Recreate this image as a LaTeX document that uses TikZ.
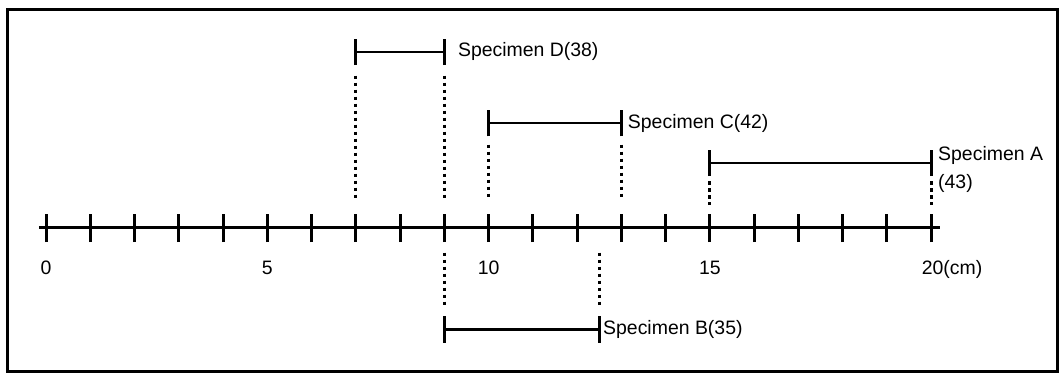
\documentclass[tikz,border=0pt]{standalone}
\usepackage{fontspec}
\setmainfont{Liberation Sans}
\usepackage{tikz}
\usetikzlibrary{positioning}

\begin{document}
\begin{tikzpicture}[x=1cm, y=1cm, line width=1.9pt,
    lbl/.style={inner sep=0pt, outer sep=0pt, font=\fontsize{12.5}{18}\selectfont},
    guide/.style={line width=2pt, dash pattern=on 2pt off 2.5pt},
    endbar/.style={line width=1.9pt}]
    \useasboundingbox (-1.04, -3.30) rectangle (22.89, 5.15);
    \draw (-0.86, -3.25) rectangle (22.85, 4.93);
    % scale
    \coordinate (axl) at (-0.16, 0);
    \coordinate (axr) at (20.2, 0);
    \draw (axl) -- (axr);
    \foreach \i in {0,...,20} {
      \coordinate (t\i) at (\i, 0);
      \draw ([yshift=-0.32cm]t\i) -- ([yshift=0.32cm]t\i);
    }
    \foreach \i in {0,5,10,15}
      \node[lbl, anchor=base] (n\i) at (\i, -1.06) {\i};
    \node[lbl, anchor=base west] (n20) at (19.79, -1.06) {20(cm)};
    % specimens
    \coordinate (d1) at (7, 3.98);    \coordinate (d2) at (9, 3.98);
    \coordinate (c1) at (10, 2.37);   \coordinate (c2) at (13, 2.37);
    \coordinate (a1) at (15, 1.47);   \coordinate (a2) at (20, 1.47);
    \coordinate (b1) at (9, -2.3);    \coordinate (b2) at (12.5, -2.3);
    \foreach \s/\e in {d1/d2, c1/c2, a1/a2, b1/b2} {
      \draw[line width=1.6pt] (\s) -- (\e);
      \draw[endbar] ([yshift=-0.3cm]\s) -- ([yshift=0.3cm]\s);
      \draw[endbar] ([yshift=-0.3cm]\e) -- ([yshift=0.3cm]\e);
    }
    \foreach \e/\a/\b in {d1/-0.54/-3.37, d2/-0.54/-3.37, c1/-0.49/-1.69, c2/-0.49/-1.69,
                          a1/-0.42/-0.95, a2/-0.42/-0.95, b1/1.74/0.51, b2/1.74/0.51}
      \draw[guide] ([yshift=\a cm]\e) -- ([yshift=\b cm]\e);
    \node[lbl, right=0.31cm of d2] (spd) {Specimen D(38)};
    \node[lbl, right=0.15cm of c2] (spc) {Specimen C(42)};
    \node[lbl, right=0.16cm of a2, yshift=-0.14cm, align=left] (spa) {Specimen A\\(43)};
    \node[lbl, right=0.09cm of b2] (spb) {Specimen B(35)};
  \end{tikzpicture}
\end{document}
